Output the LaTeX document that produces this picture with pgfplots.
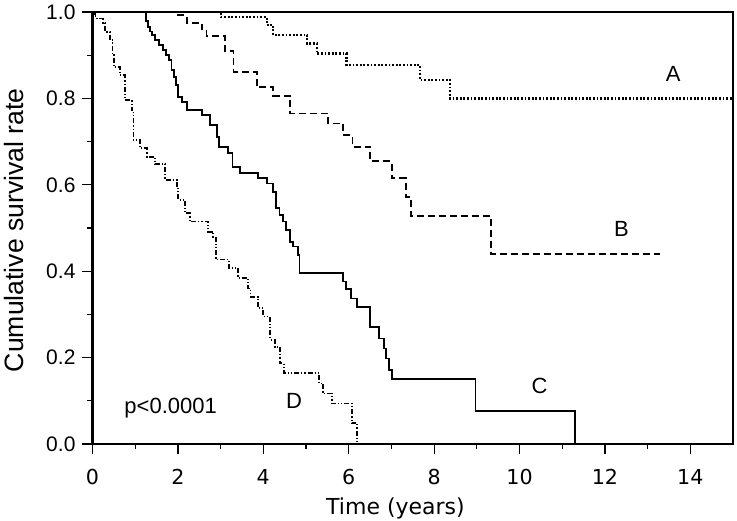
\documentclass[border=0pt]{standalone}
\usepackage{fontspec}
\setmainfont{Liberation Sans}
\newfontfamily\dejavu{DejaVu Sans}
\usepackage{pgfplots}
\pgfplotsset{compat=1.18}
\begin{document}
\begin{tikzpicture}
\begin{axis}[
  name=ax,
  scale only axis,
  width=320.25pt, height=216pt,
  xmin=0, xmax=15, ymin=0, ymax=1,
  axis line style={line width=1.1pt},
  xtick={0,2,...,14}, minor xtick={1,3,...,13},
  ytick={0,0.2,...,1.0}, minor ytick={0.1,0.3,0.5,0.7,0.9},
  xtick pos=bottom, ytick pos=left,
  tick align=outside,
  major tick length=5pt, minor tick length=2.5pt,
  every tick/.style={black, line width=0.6pt},
  /pgf/number format/assume math mode=true,
  yticklabel style={font=\fontsize{10.5}{12}\selectfont, /pgf/number format/.cd, fixed, fixed zerofill, precision=1},
  xticklabel style={font=\dejavu\fontsize{10.3}{12}\selectfont, yshift=-4pt},
  xlabel={Time (years)},
  ylabel={Cumulative survival rate},
  xlabel style={font=\dejavu\fontsize{11}{13}\selectfont, at={(axis description cs:0.473,-0.150)}, anchor=center},
  ylabel style={font=\fontsize{13.3}{15}\selectfont, at={(axis description cs:-0.1226,0.495)}, anchor=center},
  clip=false,
]
% A
\addplot[const plot, black, line width=1.1pt, dash pattern=on 0.9pt off 0.9pt] coordinates {
(0,1.0) (3.01,0.988) (4.08,0.970) (4.23,0.947) (5.03,0.927) (5.25,0.904) (5.95,0.877) (7.67,0.843) (8.37,0.800) (15,0.800)};
% B
\addplot[const plot, black, line width=0.9pt, dash pattern=on 3.5pt off 2pt] coordinates {
(0,1) (2.01,0.993) (2.21,0.975) (2.56,0.960) (2.67,0.945) (3.10,0.910) (3.30,0.862) (3.85,0.826) (4.23,0.806) (4.63,0.765) (5.52,0.742) (5.87,0.715) (6.09,0.688) (6.50,0.655) (7.01,0.615) (7.34,0.572) (7.45,0.528) (9.33,0.440) (13.29,0.440)};
% C
\addplot[const plot, black, line width=0.9pt] coordinates {
(0,1) (1.25,0.98) (1.30,0.965) (1.35,0.955) (1.39,0.947) (1.47,0.935) (1.56,0.924) (1.66,0.912) (1.72,0.900) (1.79,0.889) (1.85,0.866) (1.90,0.85) (1.96,0.831) (2.01,0.804) (2.09,0.792) (2.21,0.773) (2.56,0.762) (2.75,0.738) (2.91,0.711) (2.96,0.688) (3.18,0.673) (3.28,0.642) (3.45,0.627) (3.88,0.615) (4.08,0.603) (4.22,0.584) (4.30,0.546) (4.38,0.530) (4.46,0.515) (4.54,0.495) (4.62,0.468) (4.70,0.457) (4.81,0.438) (4.85,0.395) (5.86,0.376) (5.94,0.358) (6.05,0.337) (6.19,0.318) (6.50,0.270) (6.71,0.244) (6.83,0.221) (6.88,0.198) (6.95,0.171) (7.02,0.150) (8.97,0.076) (11.30,0)};
% D
\addplot[const plot, black, line width=0.9pt, dash pattern=on 2.5pt off 1pt on 0.6pt off 1pt on 0.6pt off 1pt] coordinates {
(0,1.0) (0.05,0.99) (0.10,0.985) (0.25,0.975) (0.30,0.954) (0.41,0.935) (0.47,0.90) (0.50,0.873) (0.64,0.854) (0.76,0.796) (0.92,0.773) (0.96,0.704) (1.11,0.685) (1.27,0.665) (1.46,0.648) (1.70,0.611) (1.97,0.596) (2.01,0.565) (2.17,0.534) (2.28,0.515) (2.71,0.491) (2.83,0.480) (2.89,0.427) (3.20,0.407) (3.41,0.384) (3.65,0.360) (3.70,0.341) (3.88,0.314) (4.00,0.295) (4.16,0.241) (4.27,0.225) (4.39,0.187) (4.48,0.164) (5.31,0.140) (5.40,0.117) (5.60,0.094) (6.07,0.048) (6.20,0)};
\node[font=\fontsize{11}{13}\selectfont] at (axis cs:13.6,0.856) {A};
\node[font=\fontsize{11}{13}\selectfont] at (axis cs:12.39,0.498) {B};
\node[font=\fontsize{11}{13}\selectfont] at (axis cs:10.47,0.135) {C};
\node[font=\fontsize{11}{13}\selectfont] at (axis cs:4.72,0.100) {D};
\node[font=\fontsize{11}{13}\selectfont] at (axis cs:1.83,0.083) {p<0.0001};
\end{axis}
\pgfresetboundingbox
\path[use as bounding box] ([xshift=-46.25pt,yshift=-38pt]ax.south west) rectangle ([xshift=2pt,yshift=6pt]ax.north east);
\end{tikzpicture}
\end{document}
